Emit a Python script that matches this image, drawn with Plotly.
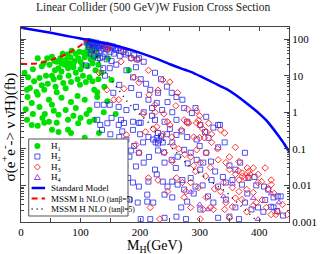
import plotly.graph_objects as go

# ---------------- data ----------------
sm_mass = [0, 25, 50, 75, 100, 125, 150, 175, 200, 225, 250, 275, 290, 306, 325, 344, 360, 382, 400, 412, 422, 432, 442, 452]
sm_xsec = [205, 175, 148, 124, 103, 86, 72, 56, 42, 30, 20.5, 14.5, 11.8, 8.8, 6.2, 4.4, 3.0, 1.6, 0.92, 0.6, 0.38, 0.23, 0.135, 0.075]

h_nlo_mass = [0, 15, 30, 45, 58, 70, 79, 88, 96, 104, 112]
h_nlo_xsec = [21, 21, 22, 25, 30, 35, 41, 50, 60, 75, 94]

H_nlo_mass = [112, 125, 135, 149, 168, 180, 196, 212, 225, 245, 261, 282, 296, 311, 328, 344, 360, 375, 387, 398]
H_nlo_xsec = [92, 40, 18, 8.6, 3.4, 1.8, 0.97, 0.58, 0.29, 0.14, 0.08, 0.034, 0.024, 0.016, 0.01, 0.0068, 0.0038, 0.0022, 0.0014, 0.001]

h1_mass = [28, 44, 52, 60, 66, 75, 83, 88, 96, 100, 107, 110, 112, 115, 118, 120, 122, 116, 119, 124,
           126, 113, 109, 105, 98, 92, 85, 78, 70, 63, 68, 79, 92, 104, 52, 42, 31, 15, 10, 26,
           39, 58, 71, 84, 99, 109, 123, 128, 11, 28, 47, 68, 84, 107, 128, 31, 52, 75, 92, 115,
           139, 10, 36, 63, 79, 100, 123, 18, 28, 39, 47, 60, 79, 84, 96, 107, 115, 131, 52, 63,
           20, 35, 48, 57, 73, 88, 100, 112, 120, 125, 6, 12, 22, 45, 55, 65, 80, 95, 115, 120,
           130, 135, 140, 146, 152, 159, 145, 18, 8, 40, 55, 88, 110, 95, 60, 75, 35, 130, 128, 121,
           117, 103, 90, 82, 68, 56, 38, 20, 181, 25, 60, 90, 40, 100, 75, 111, 114, 117, 121, 123,
           125, 118, 113]
h1_xsec = [30, 30, 33, 24, 30, 27, 32, 22, 30, 24, 32, 45, 55, 40, 60, 48, 70, 75, 85, 62,
           50, 68, 38, 42, 45, 40, 48, 38, 40, 16, 13, 16, 12, 10, 10, 10, 8.6, 4.6, 4.1, 3.6,
           4.1, 5, 6.3, 6.7, 5.6, 6.7, 4.1, 3.5, 2.6, 3, 2.2, 2.5, 1.9, 2.2, 2.6, 1.4, 1.6, 1.15, 1.3, 1.15,
           1.0, 0.62, 0.7, 0.85, 0.62, 0.7, 0.62, 0.45, 0.43, 0.52, 0.55, 0.52, 0.33, 0.27, 0.5, 0.2, 0.55, 0.27, 0.33, 0.29,
           15, 18, 20, 14, 20, 17, 15, 18, 22, 14, 12, 9, 7, 6, 8, 9, 10, 8, 9, 7,
           8, 12, 5, 30, 7.6, 0.9, 2, 1.8, 1.2, 0.9, 1.1, 0.8, 0.9, 2.8, 3.5, 4.5, 5.5, 20, 35, 30,
           28, 20, 25, 22, 22, 25, 22, 0.9, 14, 0.1, 0.05, 0.02, 0.005, 0.003, 0.01, 78, 88, 65, 58, 80,
           72, 45, 50]

h2_mass = [110, 112, 114, 115, 116, 118, 119, 120, 121, 122, 124, 125, 126, 127, 128, 130, 131, 132, 134, 135,
           136, 138, 139, 140, 141, 143, 145, 146, 148, 150, 152, 154, 156, 158, 160, 163, 166, 168, 172, 176,
           180, 185, 190, 195, 117, 123, 129, 137, 144, 152,
           198, 206, 225, 193, 177, 160, 149, 188, 201, 165, 155, 185, 198, 217, 230, 245, 253, 261, 271, 246,
           214, 228, 149, 164, 177, 193, 206, 220, 237, 254, 274, 287, 293, 152, 168, 188, 201, 225, 241, 261,
           279, 311, 331, 109, 128, 139, 133, 138, 141, 133,
           164, 173, 188, 198, 230, 222, 238, 214, 165, 177, 190, 198, 182, 206, 193, 225, 241, 253, 263, 274,
           285, 295, 279, 261, 254, 180, 188, 198, 214, 228, 238, 246, 254, 263, 274, 271, 285, 293, 182, 196,
           212, 241, 254, 269, 279, 217, 241, 261, 277,
           301, 309, 323, 334, 342, 331, 311, 295, 306, 319, 301, 326, 339, 360, 368, 376, 355, 344, 331, 371,
           382, 392, 408, 415, 424, 436, 314, 323, 344, 360, 376, 387, 398, 407, 424, 301, 331, 350, 366, 420,
           431,
           210, 235, 220, 250, 270, 240, 260, 280, 300, 315, 205, 215, 230, 245, 290, 305, 320, 350, 380, 395,
           410, 430, 440, 175, 185, 200, 155, 160, 170, 145, 150, 228, 232, 226, 235, 230, 201, 212, 222, 128, 136]
h2_xsec = [80, 88, 70, 60, 85, 75, 50, 82, 65, 78, 55, 72, 80, 45, 66, 75, 58, 70, 48, 65,
           72, 55, 68, 40, 62, 70, 52, 60, 66, 45, 58, 63, 40, 55, 50, 56, 35, 48, 44, 38,
           42, 30, 36, 28, 40, 35, 30, 33, 28, 25,
           30, 24, 12, 17, 14, 20, 16, 9, 8, 5.6, 3.4, 4.6, 3, 4.1, 3.4, 5, 3.4, 2.6, 2.2, 1.9,
           2.2, 1.8, 1.6, 1.4, 1.15, 1.4, 1.0, 1.3, 1.15, 1.0, 1.3, 0.95, 1.3, 0.7, 0.62, 0.55, 0.52, 0.62, 0.55, 0.62,
           0.55, 0.75, 0.45, 19, 1.6, 1.6, 30, 16, 10, 0.45,
           0.45, 0.51, 0.33, 0.51, 0.27, 0.18, 0.15, 0.21, 0.21, 0.18, 0.12, 0.078, 0.061, 0.042, 0.033, 0.027, 0.042, 0.05, 0.061, 0.094,
           0.078, 0.18, 0.21, 0.24, 0.15, 0.016, 0.012, 0.0093, 0.0127, 0.02, 0.0127, 0.0093, 0.0127, 0.0105, 0.0077, 0.014, 0.016, 0.0093, 0.0041, 0.0034,
           0.0036, 0.0056, 0.0047, 0.0025, 0.0036, 0.0012, 0.0013, 0.0014, 0.0012,
           0.45, 0.29, 0.38, 0.45, 0.15, 0.11, 0.078, 0.05, 0.042, 0.045, 0.027, 0.024, 0.017, 0.027, 0.042, 0.078, 0.014, 0.012, 0.0093, 0.0105,
           0.016, 0.017, 0.0093, 0.0077, 0.0047, 0.005, 0.005, 0.0034, 0.0041, 0.0025, 0.0034, 0.0022, 0.0025, 0.0019, 0.0025, 0.0022, 0.0013, 0.0014, 0.0012, 0.0026,
           0.005,
           6, 8, 0.8, 0.35, 0.3, 0.08, 0.03, 0.04, 0.12, 0.2, 0.15, 0.06, 0.09, 0.25, 0.006, 0.01, 0.014, 0.035, 0.006, 0.01,
           0.004, 0.002, 0.0015, 0.035, 0.09, 0.25, 0.12, 0.05, 0.3, 0.5, 0.25, 0.2, 0.17, 0.15, 0.22, 0.14, 0.0012, 0.0056, 0.0034, 0.62, 0.33]

h3_mass = [144, 131, 144, 173, 196, 214, 238, 250, 263, 225, 147, 185, 168, 190, 198, 173, 164, 156, 274, 282,
           246, 225, 253, 238, 222, 295, 301,
           177, 193, 198, 209, 228, 250, 269, 279, 290, 241, 254, 261, 271, 277, 293, 246, 274, 233, 285, 214,
           295, 311, 335, 342, 360, 366, 295, 311, 301, 318, 331, 344, 350, 360, 371, 376, 382, 398, 404, 420,
           379, 390, 366, 355, 335, 311, 298, 318, 344, 371, 395, 412, 420, 431, 439, 447, 379, 350, 301,
           217, 230, 285, 306, 323, 342, 355, 366, 382, 398, 420, 428,
           260, 280, 300, 320, 330, 205, 215, 230, 240, 265, 285, 300, 350, 390, 410, 425, 405, 415, 390, 360,
           340, 325, 310, 290, 275, 256, 298, 305, 315, 320, 308, 365, 372, 380, 385]
h3_xsec = [57, 12, 4.1, 50, 27, 14, 7.6, 6.7, 3.4, 1.6, 57, 30, 24, 9, 6.5, 4.4, 2.2, 2.2, 0.62, 0.51,
           0.55, 1.0, 0.21, 0.25, 0.35, 1.1, 0.45,
           0.24, 0.13, 0.078, 0.29, 0.4, 0.45, 0.33, 0.51, 0.21, 0.078, 0.045, 0.016, 0.012, 0.0068, 0.024, 0.0068, 0.0047, 0.0012, 0.0025, 0.016,
           0.51, 0.29, 0.33, 0.27, 0.11, 0.045, 0.094, 0.078, 0.042, 0.031, 0.05, 0.042, 0.027, 0.02, 0.022, 0.016, 0.024, 0.02, 0.0127, 0.014,
           0.0077, 0.0064, 0.0068, 0.0087, 0.0068, 0.0047, 0.0087, 0.0025, 0.0034, 0.0041, 0.0034, 0.0025, 0.0016, 0.0019, 0.003, 0.0016, 0.0019, 0.0013, 0.0012,
           0.0025, 0.014, 0.012, 0.0022, 0.0022, 0.0022, 0.0026, 0.014, 0.017, 0.012, 0.0105, 0.0016,
           1.5, 1.2, 0.8, 0.15, 0.1, 0.9, 3, 4, 0.9, 0.1, 0.06, 0.2, 0.06, 0.03, 0.03, 0.006, 0.004, 0.008, 0.0028, 0.0045,
           0.012, 0.008, 0.018, 0.035, 0.07, 0.12, 0.6, 0.35, 0.5, 0.25, 0.2, 0.025, 0.018, 0.03, 0.02]

h4_mass = [285, 314, 433, 390, 355, 340, 398, 420, 300]
h4_xsec = [0.0066, 0.0022, 0.0034, 0.0045, 0.011, 0.005, 0.0012, 0.006, 0.003]

legend_labels = ["H<sub>1</sub>", "H<sub>2</sub>", "H<sub>3</sub>", "H<sub>4</sub>",
                 "Standard Model",
                 "MSSM h NLO <span style='font-size:7.5px'>(tanβ=5)</span>",
                 "MSSM H NLO <span style='font-size:7.5px'>(tanβ=5)</span>"]

y_tick_vals = [0.001, 0.01, 0.1, 1, 10, 100]
y_tick_text = ["0.001", "0.01", "0.1", "1", "10", "100"]
x_tick_vals = [0, 50, 100, 150, 200, 250, 300, 350, 400]
x_tick_text = ["0", "", "100", "", "200", "", "300", "", "400"]

# ---------------- styles ----------------
SERIF = "Liberation Serif, Times New Roman, serif"
GREEN = "#00e000"
BLUE = "rgba(40,40,235,0.8)"
RED = "rgba(255,30,30,0.9)"
PURPLE = "#a040e0"

fig = go.Figure()
fig.add_trace(go.Scatter(x=h1_mass, y=h1_xsec, mode="markers",
                         marker=dict(symbol="circle", size=6, color=GREEN), showlegend=False))
fig.add_trace(go.Scatter(x=h2_mass, y=h2_xsec, mode="markers",
                         marker=dict(symbol="square-open", size=5, color=BLUE, line=dict(width=1)), showlegend=False))
fig.add_trace(go.Scatter(x=h3_mass, y=h3_xsec, mode="markers",
                         marker=dict(symbol="diamond-open", size=5, color=RED, line=dict(width=1)), showlegend=False))
fig.add_trace(go.Scatter(x=h4_mass, y=h4_xsec, mode="markers",
                         marker=dict(symbol="triangle-up-open", size=5, color=PURPLE, line=dict(width=1)), showlegend=False))
fig.add_trace(go.Scatter(x=sm_mass, y=sm_xsec, mode="lines", line=dict(color="#0000ff", width=2.5, shape="spline", smoothing=0.6),
                         showlegend=False))
fig.add_trace(go.Scatter(x=h_nlo_mass, y=h_nlo_xsec, mode="lines", line=dict(color="#ff0000", width=2, dash="6px,4px", shape="spline"),
                         showlegend=False))
fig.add_trace(go.Scatter(x=H_nlo_mass, y=H_nlo_xsec, mode="lines", line=dict(color="black", width=1.5, dash="1px,5px"),
                         showlegend=False))

# ---------------- custom legend (layout decorations) ----------------
L, R, T, B = 21, 299, 27, 222
def px(xp):
    return (xp - L) / (R - L)
def py(yp):
    return (B - yp) / (B - T)

shapes = [dict(type="rect", xref="paper", yref="paper", x0=px(29), x1=px(132), y0=py(216), y1=py(139),
               line=dict(color="#555", width=1), fillcolor="white", layer="above")]
rows = [146, 156.5, 167, 177.5, 188, 198.5, 209]
mx = px(38)
common = dict(xref="paper", yref="paper", xsizemode="pixel", ysizemode="pixel", layer="above", xanchor=mx)
shapes.append(dict(type="circle", yanchor=py(rows[0]), x0=-3, x1=3, y0=-3, y1=3,
                   fillcolor=GREEN, line=dict(width=0), **common))
shapes.append(dict(type="rect", yanchor=py(rows[1]), x0=-2.5, x1=2.5, y0=-2.5, y1=2.5,
                   fillcolor="rgba(0,0,0,0)", line=dict(color=BLUE, width=1), **common))
shapes.append(dict(type="path", yanchor=py(rows[2]), path="M 0 3 L 3 0 L 0 -3 L -3 0 Z",
                   fillcolor="rgba(0,0,0,0)", line=dict(color=RED, width=1), **common))
shapes.append(dict(type="path", yanchor=py(rows[3]), path="M 0 3 L 3 -2 L -3 -2 Z",
                   fillcolor="rgba(0,0,0,0)", line=dict(color=PURPLE, width=1), **common))
for row, col, w, dash in [(rows[4], "#0000ff", 2.5, "solid"), (rows[5], "#ff0000", 2, "6px,4px"), (rows[6], "black", 1.5, "1px,4px")]:
    shapes.append(dict(type="line", xref="paper", yref="paper", x0=px(32), x1=px(46), y0=py(row), y1=py(row),
                       line=dict(color=col, width=w, dash=dash), layer="above"))

annotations = []
for row, lab in zip(rows, legend_labels):
    annotations.append(dict(x=px(50), y=py(row), xref="paper", yref="paper", text=lab, showarrow=False,
                            xanchor="left", yanchor="middle", font=dict(family=SERIF, size=9, color="black")))

annotations.append(dict(x=px(158), y=py(8), xref="paper", yref="paper",
                        text="Linear Collider (500 GeV)W Fusion Cross Section", showarrow=False,
                        xanchor="center", yanchor="middle", font=dict(family=SERIF, size=11.5, color="#222")))
annotations.append(dict(x=px(160), y=py(246), xref="paper", yref="paper",
                        text="M<sub>H</sub>(GeV)", showarrow=False,
                        xanchor="center", yanchor="middle", font=dict(family=SERIF, size=14, color="black")))
annotations.append(dict(x=px(9), y=py(127), xref="paper", yref="paper", textangle=-90,
                        text="σ(e<sup>+</sup>e<sup>-</sup>-> ν ν\u0304H)(fb)", showarrow=False,
                        xanchor="center", yanchor="middle", font=dict(family=SERIF, size=15, color="black")))

minor_vals = [m * 10 ** k for k in range(-3, 3) for m in range(2, 10) if m * 10 ** k <= 210]

fig.update_layout(
    width=329, height=254,
    margin=dict(l=L, r=329 - R, t=T, b=254 - B),
    paper_bgcolor="white", plot_bgcolor="white",
    showlegend=False,
    shapes=shapes, annotations=annotations,
    xaxis=dict(range=[0, 450], tickmode="array", tickvals=x_tick_vals, ticktext=x_tick_text,
               ticks="inside", ticklen=4, tickcolor="#444", mirror="ticks", showline=True, linecolor="#444",
               linewidth=1, showgrid=False, zeroline=False, tickfont=dict(family=SERIF, size=11, color="black")),
    yaxis=dict(type="log", range=[-3, 2.33], side="right", tickmode="array", tickvals=y_tick_vals, ticktext=y_tick_text,
               ticks="inside", ticklen=5, tickcolor="#444", mirror="ticks", showline=True, linecolor="#444",
               linewidth=1, showgrid=False, zeroline=False, tickfont=dict(family=SERIF, size=11, color="black"),
               minor=dict(tickmode="array", tickvals=minor_vals, ticks="inside", ticklen=2.5, tickcolor="#444", showgrid=False)),
)

fig.write_html("out.html", config={"displayModeBar": False},
               post_script="document.body.style.margin='0';")
